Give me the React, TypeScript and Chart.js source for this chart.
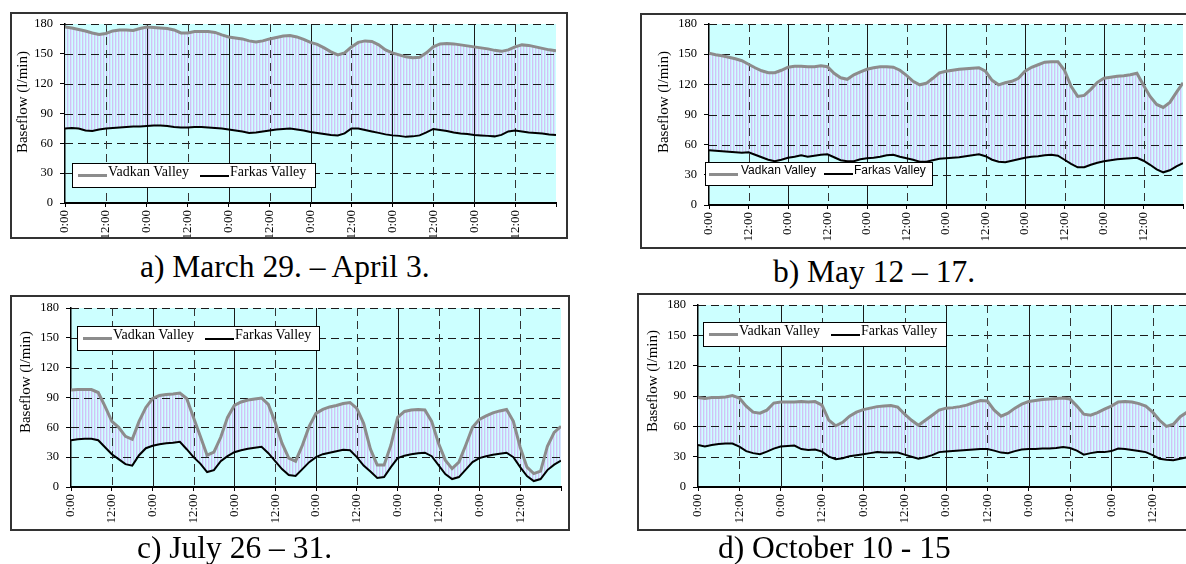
import React, { useEffect, useRef } from 'react';
import { Chart, registerables } from 'chart.js';

Chart.register(...registerables);

// ---------------- data ----------------
const HOURS = [0, 2, 4, 6, 8, 10, 12, 14, 16, 18, 20, 22, 24, 26, 28, 30, 32, 34, 36, 38, 40, 42, 44, 46,
  48, 50, 52, 54, 56, 58, 60, 62, 64, 66, 68, 70, 72, 74, 76, 78, 80, 82, 84, 86, 88, 90, 92, 94, 96, 98,
  100, 102, 104, 106, 108, 110, 112, 114, 116, 118, 120, 122, 124, 126, 128, 130, 132, 134, 136, 138, 140, 142, 144];

const X_TICK_HOURS = [0, 12, 24, 36, 48, 60, 72, 84, 96, 108, 120, 132, 144];
const X_TICK_LABELS = ['0:00', '12:00', '0:00', '12:00', '0:00', '12:00', '0:00', '12:00', '0:00', '12:00', '0:00', '12:00', ''];
const Y_MIN = 0;
const Y_MAX = 180;
const Y_STEP = 30;

const SERIES_NAMES = ['Vadkan Valley', 'Farkas Valley'];
const Y_TITLE = 'Baseflow (l/min)';
const CAPTIONS = ['a) March 29. \u2013 April 3.', 'b) May 12 \u2013 17.', 'c) July 26 \u2013 31.', 'd) October 10 - 15'];

const VADKAN_A = [177, 176, 174.5, 173, 171, 169.5, 170.5, 173, 174, 174, 173.5, 175.5,
  177, 176.5, 176, 175.5, 174, 171, 171, 172.5, 172.5, 172.5, 171.5, 169,
  167, 166, 165, 163, 162, 163, 165, 166.5, 168, 168.5, 167, 164.5,
  161.5, 159.5, 156, 152, 149, 151, 157, 161.5, 163, 162.5, 159, 154,
  151, 149, 147, 146, 146.5, 151, 157, 160, 160.5, 160, 159, 158,
  157, 156, 155, 153.5, 152.5, 154, 157, 159, 158.5, 157, 155.5, 154,
  153];
const FARKAS_A = [75, 75.5, 75, 73, 72.5, 74, 75, 75.5, 76, 76.5, 77, 77,
  77.5, 78, 78, 77.5, 76.5, 76, 76, 76.5, 76.5, 76, 75.5, 75,
  74, 73, 72, 70.5, 71, 72, 73, 74, 74.5, 75, 74, 73,
  71.5, 70.5, 69.5, 68.5, 68, 70, 75, 75, 73.5, 72, 70.5, 69,
  68, 67.5, 66.5, 67, 68, 71, 74.5, 73.5, 72.5, 71, 70, 69.5,
  68.5, 68, 67.5, 67, 68.5, 72, 73, 72, 71, 70.5, 70, 69,
  68.5];

const VADKAN_B = [151, 149.5, 148.5, 147, 145.5, 143.5, 140, 136.5, 133.5, 131.5, 131.5, 134,
  137, 138, 138, 137.5, 137.5, 138.5, 137.5, 131, 126.5, 125, 129.5, 132.5,
  135, 136.5, 137.5, 137.5, 137, 134, 129, 123, 119.5, 121, 126, 131.5,
  133, 134, 135, 135.5, 136, 136.5, 133, 124, 119.5, 121.5, 123, 126,
  133, 137, 139.5, 142, 142.5, 142.5, 134, 118, 108, 109, 115, 122,
  126, 127, 128, 128.5, 129.5, 131, 119, 108, 100, 97, 102, 112,
  121.5];
const FARKAS_B = [54.5, 54, 53.5, 53, 52.5, 52, 52.5, 50, 47.5, 45, 43.5, 45,
  47, 48, 49.5, 48, 49, 50, 50.5, 47.5, 44.5, 43.5, 43.5, 45.5,
  46.5, 47, 48, 49.5, 50, 48, 46.5, 45, 43, 43, 44.5, 46,
  46.5, 47, 47.5, 48.5, 49.5, 50.5, 48.5, 45, 43, 42.5, 44, 45.5,
  47, 48, 48.5, 49.5, 50, 49, 45, 41, 37.5, 37.5, 40, 42,
  43.5, 44.5, 45.5, 46, 46.5, 47, 44, 40, 35.5, 32.5, 34.5, 38.5,
  41.5];

const VADKAN_C = [97.5, 98, 98, 98, 95, 81, 66, 60, 51, 48, 66, 80,
  89, 92, 93, 93.5, 94.5, 89, 70, 51, 32, 35, 50, 70,
  82, 85.5, 87.5, 88.5, 89.5, 83, 65, 44, 29, 26, 42, 61,
  74, 78, 80.5, 82, 84, 85, 79, 64, 38, 22, 22, 42,
  70, 76, 77.5, 78, 77.5, 66, 44, 27, 18.5, 25, 42, 60,
  68, 71.5, 74.5, 76.5, 78, 66, 40, 20, 13.5, 16, 41, 55,
  61];
const FARKAS_C = [47, 48, 48.5, 48.5, 47, 40, 33, 28, 23, 21.5, 32, 39,
  41.5, 43, 44, 44.5, 45.5, 38, 30, 23.5, 15, 17, 26, 31,
  35, 37, 38.5, 39.5, 40.5, 34, 26, 18, 12, 11, 18, 25,
  30, 33, 34.5, 36, 37.5, 37, 30, 21.5, 15.5, 9, 10, 20,
  29, 31.5, 33, 34, 34.5, 31, 22, 13, 8, 10, 17.5, 25,
  29, 31, 32.5, 33.5, 34.5, 30, 20, 11, 6, 8, 17, 22.5,
  26.5];

const VADKAN_D = [88.5, 87.5, 88.5, 88.5, 89, 90.5, 88, 80, 74, 73, 76, 83,
  84, 84, 84, 84.5, 84, 84.5, 81, 66, 60.5, 64, 70, 74,
  76.5, 78, 79.5, 80, 80.5, 79, 72, 66, 61, 66, 71, 76,
  78, 78.5, 79.5, 81, 83.5, 85.5, 85, 76, 70, 73, 78, 82,
  84.5, 85.5, 86.5, 87, 87.5, 88, 87, 80, 72, 71, 73.5, 77,
  80, 84, 84.5, 84, 82.5, 80, 74, 66, 60, 62, 69.5, 74,
  77];
const FARKAS_D = [41.5, 40, 41.5, 42.5, 43, 43, 40, 35.5, 33.5, 32.5, 35, 38,
  40, 40.5, 41, 37.5, 36.5, 37, 35, 30, 27.5, 28.5, 30.5, 31.5,
  32.5, 33.5, 34.5, 34, 34, 34, 32, 30, 28, 29.5, 31.5, 34.5,
  35, 35.5, 36, 36.5, 37, 37.5, 37.5, 36, 34, 33.5, 35.5, 37,
  37.5, 37.5, 38, 38, 38.5, 39.5, 38.5, 36, 32, 33.5, 34.5, 34.5,
  35.5, 38, 37.5, 36.5, 35.5, 34.5, 31.5, 28, 27, 26.5, 28, 29.5,
  31];

// ---------------- styles / layout ----------------
const SERIF = '"Liberation Serif", "Times New Roman", serif';
const SANS = '"Liberation Sans", Arial, sans-serif';
const VADKAN_COLOR = '#8c8c8c';
const FARKAS_COLOR = '#000000';
const PLOT_BG = '#CCFFFF';
const HATCH_COLOR = '#CFC2F6';
const HATCH_MID = '#D4E6FC';

const LEGEND_SERIF = { s1: [5, 34], t1: 35, s2: [127, 156], t2: 157, font: `14px ${SERIF}` };
const LEGEND_SANS = { s1: [3, 32], t1: 35, s2: [118, 147], t2: 148, font: `12px ${SANS}` };

type Rect = { l: number; t: number; r: number; b: number };
type PanelCfg = {
  box: Rect; plot: Rect; title: { x: number; y: number }; legend: Rect; legendStyle: any;
  caption: { x: number; baseline: number; text: string }; vadkan: number[]; farkas: number[];
};

const PANELS: PanelCfg[] = [
  {
    box: { l: 10, t: 12, r: 567, b: 238 }, plot: { l: 65, t: 24, r: 556, b: 203 },
    title: { x: 22, y: 102 }, legend: { l: 72, t: 163, r: 316, b: 188 }, legendStyle: LEGEND_SERIF,
    caption: { x: 140, baseline: 277, text: CAPTIONS[0] }, vadkan: VADKAN_A, farkas: FARKAS_A,
  },
  {
    box: { l: 640, t: 13, r: 1195, b: 248 }, plot: { l: 709, t: 24, r: 1183, b: 205 },
    title: { x: 663, y: 102 }, legend: { l: 705, t: 162, r: 933, b: 186 }, legendStyle: LEGEND_SANS,
    caption: { x: 773, baseline: 282, text: CAPTIONS[1] }, vadkan: VADKAN_B, farkas: FARKAS_B,
  },
  {
    box: { l: 10, t: 295, r: 569, b: 530 }, plot: { l: 71, t: 308, r: 561, b: 487 },
    title: { x: 25, y: 382 }, legend: { l: 77, t: 326, r: 320, b: 351 }, legendStyle: LEGEND_SERIF,
    caption: { x: 137, baseline: 558, text: CAPTIONS[2] }, vadkan: VADKAN_C, farkas: FARKAS_C,
  },
  {
    box: { l: 637, t: 293, r: 1205, b: 530 }, plot: { l: 698, t: 305, r: 1194, b: 487 },
    title: { x: 652, y: 381 }, legend: { l: 703, t: 322, r: 947, b: 347 }, legendStyle: LEGEND_SERIF,
    caption: { x: 718, baseline: 558, text: CAPTIONS[3] }, vadkan: VADKAN_D, farkas: FARKAS_D,
  },
];

function makeHatch(): CanvasPattern | string {
  const c = document.createElement('canvas');
  c.width = 3;
  c.height = 4;
  const g = c.getContext('2d');
  if (!g) return HATCH_COLOR;
  g.fillStyle = HATCH_COLOR;
  g.fillRect(0, 0, 1, 4);
  g.fillStyle = HATCH_MID;
  g.fillRect(1, 0, 1, 4);
  return g.createPattern(c, 'repeat') || HATCH_COLOR;
}

const gridPlugin = {
  id: 'panelGrid',
  beforeDraw(chart: any) {
    const { ctx, chartArea: a } = chart;
    ctx.save();
    ctx.fillStyle = PLOT_BG;
    ctx.fillRect(a.left, a.top, a.right - a.left, a.bottom - a.top);
    ctx.restore();
  },
  beforeDatasetsDraw(chart: any) {
    const { ctx, chartArea: a, scales } = chart;
    const xs = scales.x;
    const ys = scales.y;
    ctx.save();
    ctx.lineWidth = 1;
    ys.ticks.forEach((t: any) => {
      if (t.value <= Y_MIN) return;
      const py = Math.round(ys.getPixelForValue(t.value)) + 0.5;
      ctx.setLineDash([8, 5]);
      ctx.strokeStyle = '#1a1a1a';
      ctx.beginPath();
      ctx.moveTo(a.left, py);
      ctx.lineTo(a.right, py);
      ctx.stroke();
    });
    xs.ticks.forEach((t: any) => {
      const v = t.value;
      if (v <= 0 || v >= 144) return;
      const px = Math.round(xs.getPixelForValue(v)) + 0.5;
      if (v % 24 === 0) {
        ctx.setLineDash([]);
        ctx.strokeStyle = '#1a1a1a';
      } else {
        ctx.setLineDash([8, 5]);
        ctx.strokeStyle = '#333333';
      }
      ctx.beginPath();
      ctx.moveTo(px, a.top);
      ctx.lineTo(px, a.bottom);
      ctx.stroke();
    });
    ctx.restore();
  },
};

function PanelChart({ p }: { p: PanelCfg }) {
  const ref = useRef<HTMLCanvasElement>(null);
  const w = p.box.r - p.box.l;
  const h = p.box.b - p.box.t;
  useEffect(() => {
    const canvas = ref.current;
    if (!canvas) return;
    const yw = p.plot.l - p.box.l;
    const xh = p.box.b - p.plot.b;
    const chart = new Chart(canvas, {
      type: 'line',
      data: {
        datasets: [
          {
            label: SERIES_NAMES[0],
            data: HOURS.map((x, i) => ({ x, y: p.vadkan[i] })),
            borderColor: VADKAN_COLOR,
            borderWidth: 3,
            backgroundColor: makeHatch() as any,
            fill: '+1',
            pointRadius: 0,
            tension: 0,
            order: 2,
          },
          {
            label: SERIES_NAMES[1],
            data: HOURS.map((x, i) => ({ x, y: p.farkas[i] })),
            borderColor: FARKAS_COLOR,
            borderWidth: 2,
            fill: false,
            pointRadius: 0,
            tension: 0,
            order: 1,
          },
        ],
      },
      options: {
        responsive: false,
        animation: false,
        devicePixelRatio: 1,
        layout: { padding: { top: p.plot.t - p.box.t, right: p.box.r - p.plot.r, bottom: 0, left: 0 } },
        plugins: {
          legend: { display: false },
          tooltip: { enabled: false },
          title: { display: false },
          filler: { drawTime: 'beforeDatasetsDraw', propagate: false },
        },
        scales: {
          x: {
            type: 'linear',
            min: 0,
            max: 144,
            afterBuildTicks: (s: any) => {
              s.ticks = X_TICK_HOURS.map((v) => ({ value: v }));
            },
            ticks: {
              autoSkip: false,
              maxRotation: 90,
              minRotation: 90,
              padding: 3,
              color: '#000',
              font: { family: SERIF, size: 13 },
              callback: (_v: any, i: number) => X_TICK_LABELS[i] ?? '',
            },
            grid: { drawOnChartArea: false, drawTicks: true, tickLength: 4, tickColor: '#000', tickWidth: 1 },
            border: { display: true, color: '#000', width: 2 },
            afterFit: (s: any) => {
              s.height = xh;
              s.paddingLeft = 0;
              s.paddingRight = 0;
            },
          },
          y: {
            min: Y_MIN,
            max: Y_MAX,
            ticks: { stepSize: Y_STEP, padding: 7, color: '#000', font: { family: SERIF, size: 12.5 } },
            grid: { drawOnChartArea: false, drawTicks: true, tickLength: 5, tickColor: '#000', tickWidth: 1 },
            border: { display: true, color: '#000', width: 1.5 },
            afterFit: (s: any) => {
              s.width = yw;
              s.paddingTop = 0;
              s.paddingBottom = 0;
            },
          },
        },
      } as any,
      plugins: [gridPlugin],
    });
    return () => chart.destroy();
  }, []);
  return (
    <canvas
      ref={ref}
      width={w}
      height={h}
      style={{ position: 'absolute', left: p.box.l, top: p.box.t, width: w, height: h }}
    />
  );
}

function Legend({ p }: { p: PanelCfg }) {
  const L = p.legend;
  const st = p.legendStyle;
  const hgt = L.b - L.t;
  const mid = hgt / 2;
  const textStyle: React.CSSProperties = {
    position: 'absolute', top: 0, height: hgt - 2, lineHeight: `${hgt - 2}px`, font: st.font, color: '#000', whiteSpace: 'nowrap',
  };
  return (
    <div style={{ position: 'absolute', left: L.l, top: L.t, width: L.r - L.l, height: hgt, border: '1px solid #000', background: '#fff', boxSizing: 'border-box' }}>
      <div style={{ position: 'absolute', left: st.s1[0], top: mid - 1 - 1.5, width: st.s1[1] - st.s1[0], height: 3, background: VADKAN_COLOR }} />
      <div style={{ ...textStyle, left: st.t1 }}>{SERIES_NAMES[0]}</div>
      <div style={{ position: 'absolute', left: st.s2[0], top: mid - 1 - 1, width: st.s2[1] - st.s2[0], height: 2, background: FARKAS_COLOR }} />
      <div style={{ ...textStyle, left: st.t2 }}>{SERIES_NAMES[1]}</div>
    </div>
  );
}

export default function App() {
  return (
    <div style={{ position: 'fixed', left: 0, top: 0, width: 1186, height: 564, overflow: 'hidden', background: '#fff', fontFamily: SERIF }}>
      {PANELS.map((p, i) => (
        <React.Fragment key={i}>
          <PanelChart p={p} />
          <div style={{ position: 'absolute', left: p.box.l, top: p.box.t, width: p.box.r - p.box.l + 1, height: p.box.b - p.box.t + 1, border: '2px solid #333', boxSizing: 'border-box', pointerEvents: 'none' }} />
          <div style={{ position: 'absolute', left: p.title.x, top: p.title.y, transform: 'translate(-50%, -50%) rotate(-90deg)', font: `15px ${SERIF}`, color: '#000', whiteSpace: 'nowrap' }}>{Y_TITLE}</div>
          <Legend p={p} />
          <div style={{ position: 'absolute', left: p.caption.x, top: p.caption.baseline - 26.4, font: `31.5px ${SERIF}`, lineHeight: '31.5px', color: '#000', whiteSpace: 'nowrap' }}>{p.caption.text}</div>
        </React.Fragment>
      ))}
    </div>
  );
}
